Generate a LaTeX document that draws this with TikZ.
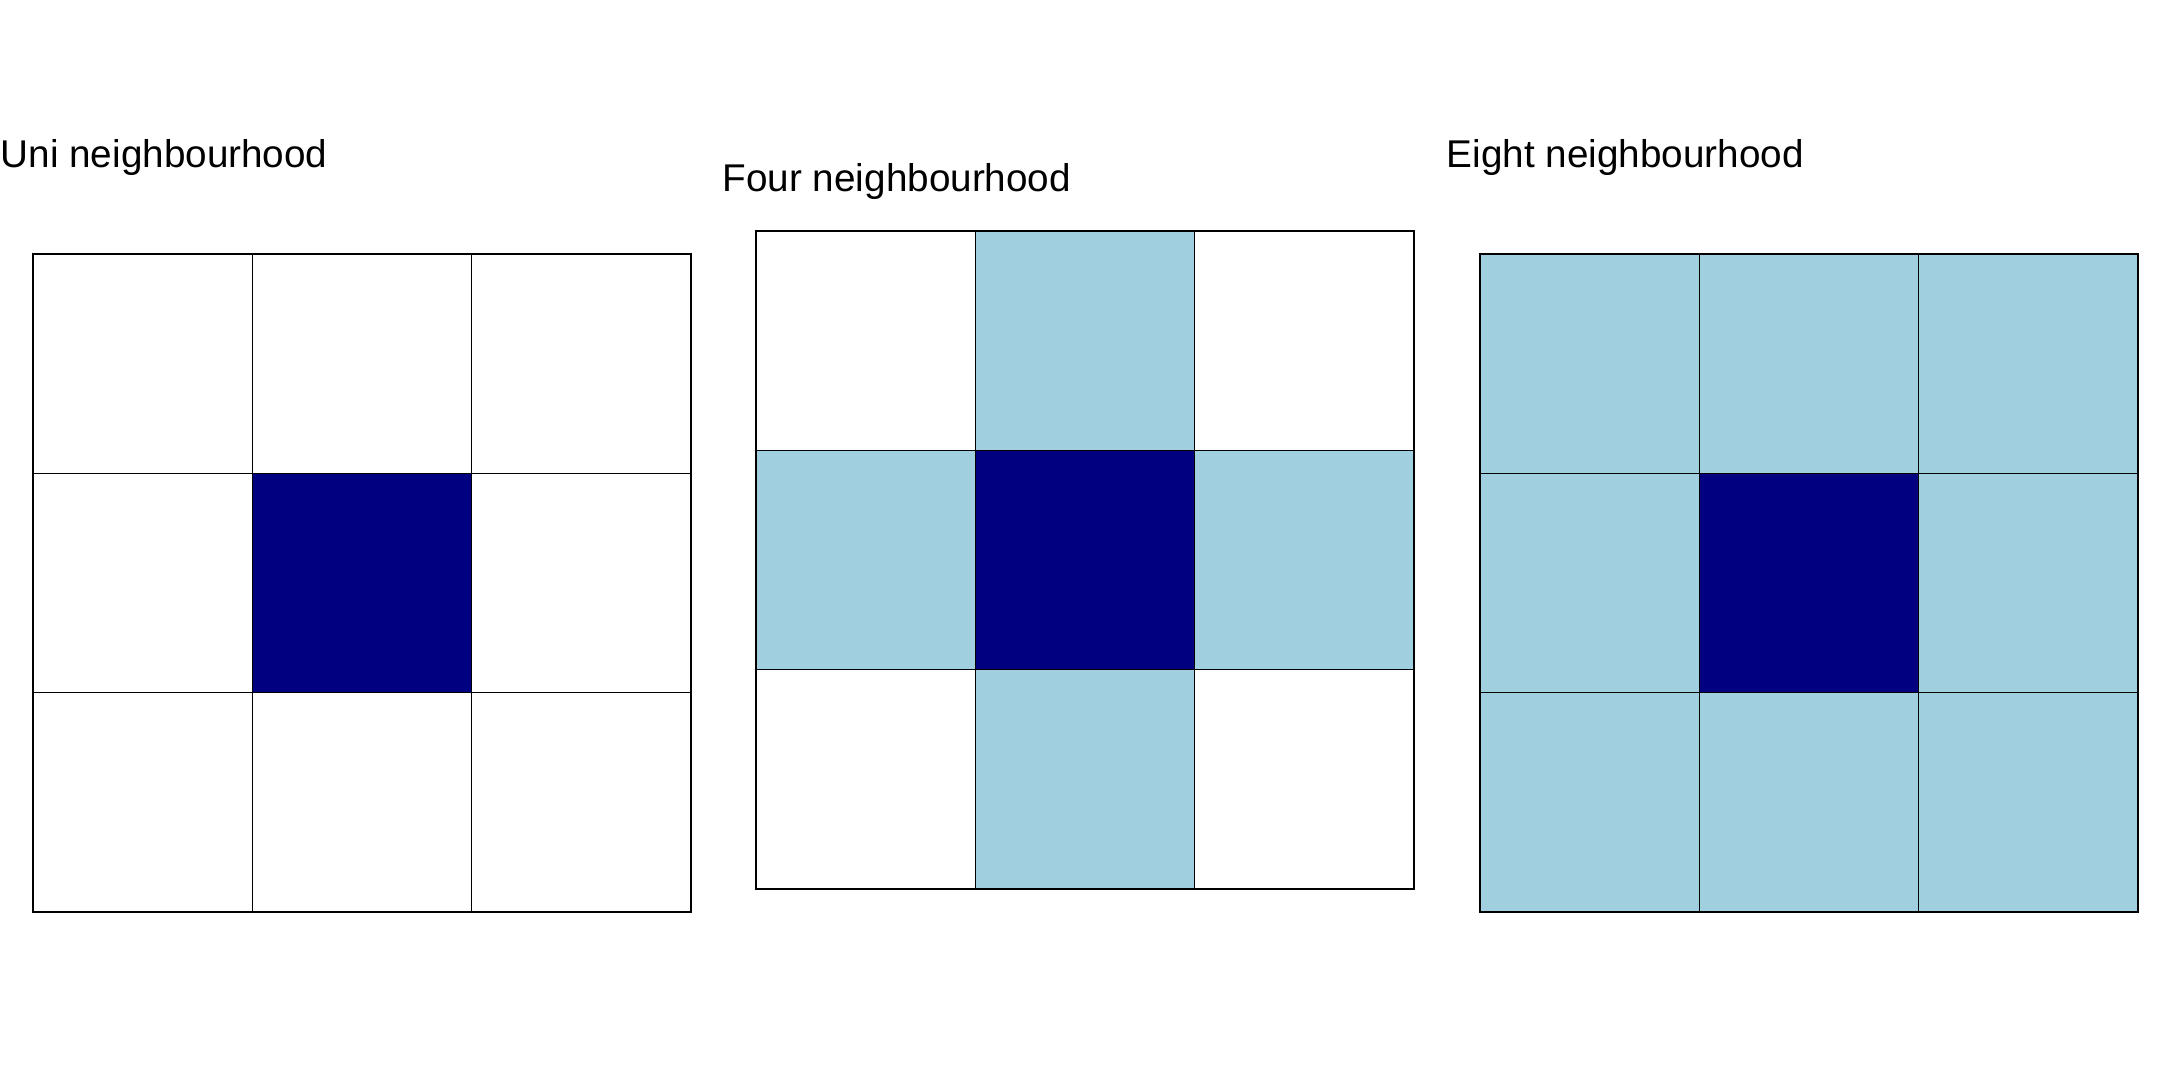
\documentclass[tikz,border=0pt]{standalone}
\usepackage{fontspec}
\setmainfont{Liberation Sans}
\usepackage{xcolor}
\usepackage{tikz}
\usetikzlibrary{positioning}
\definecolor{cellnavy}{RGB}{0,0,128}
\definecolor{celllight}{RGB}{160,207,224}

\begin{document}
\begin{tikzpicture}[
    x=0.01cm, y=-0.01cm,
    cell/.style={rectangle, draw=black, line width=0.4pt, minimum size=2.193cm, inner sep=0pt, outer sep=0pt},
    cell_empty/.style={cell, fill=white},
    cell_near/.style={cell, fill=celllight},
    cell_centre/.style={cell, fill=cellnavy},
    title/.style={anchor=base west, inner sep=0pt, font=\fontsize{11}{13}\selectfont},
]
\useasboundingbox (0,0) rectangle (2171,1069);
% Uni neighbourhood
\node[title] (uni-title) at (0,167) {Uni neighbourhood};
\begin{scope}[shift={(33,254)}]
\foreach \r in {0,1,2} \foreach \c in {0,1,2}
    \node[cell_empty] (uni-\r-\c) at ({109.65+219.3*\c},{109.65+219.3*\r}) {};
\node[cell_centre] (uni-1-1) at (328.95,328.95) {};
\end{scope}
% Four neighbourhood
\node[title] (four-title) at (722,191) {Four neighbourhood};
\begin{scope}[shift={(756,231)}]
\foreach \r in {0,1,2} \foreach \c in {0,1,2}
    \node[cell_empty] (four-\r-\c) at ({109.65+219.3*\c},{109.65+219.3*\r}) {};
\foreach \r/\c in {0/1,1/0,1/2,2/1}
    \node[cell_near] (four-\r-\c) at ({109.65+219.3*\c},{109.65+219.3*\r}) {};
\node[cell_centre] (four-1-1) at (328.95,328.95) {};
\end{scope}
% Eight neighbourhood
\node[title] (eight-title) at (1446,167) {Eight neighbourhood};
\begin{scope}[shift={(1480,254)}]
\foreach \r in {0,1,2} \foreach \c in {0,1,2}
    \node[cell_near] (eight-\r-\c) at ({109.65+219.3*\c},{109.65+219.3*\r}) {};
\node[cell_centre] (eight-1-1) at (328.95,328.95) {};
\end{scope}
\end{tikzpicture}
\end{document}
